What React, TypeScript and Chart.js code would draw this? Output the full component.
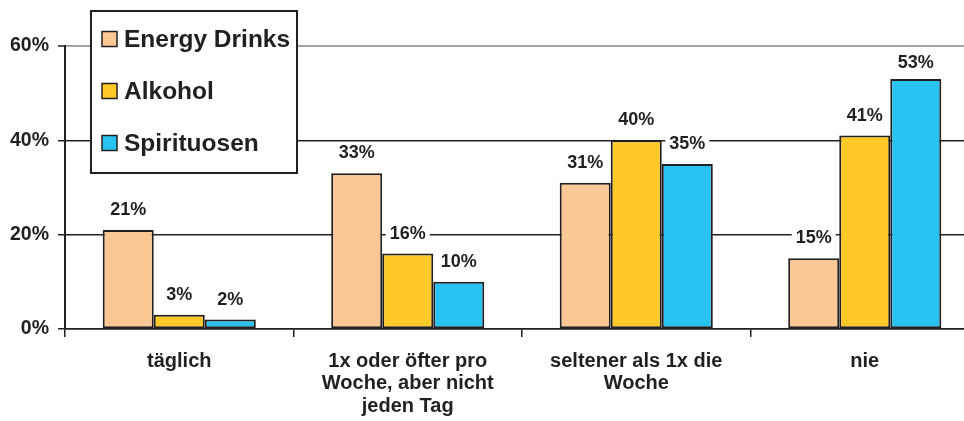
import React, { useEffect, useRef } from 'react';
import { Chart, registerables } from 'chart.js';

Chart.register(...registerables);

const categories: string[][] = [
  ['täglich'],
  ['1x oder öfter pro', 'Woche, aber nicht', 'jeden Tag'],
  ['seltener als 1x die', 'Woche'],
  ['nie'],
];
const seriesNames = ['Energy Drinks', 'Alkohol', 'Spirituosen'];
const energyDrinks = [21, 33, 31, 15];
const alkohol = [3, 16, 40, 41];
const spirituosen = [2, 10, 35, 53];
const yTickValues = [0, 20, 40, 60];
const seriesColors = ['#FBC794', '#FFCA28', '#29C3F1'];

const FONT = '"Liberation Sans", Arial, Helvetica, sans-serif';
const INK = '#231F20';

const valueLabels = {
  id: 'valueLabels',
  afterDatasetsDraw(chart: any) {
    const ctx = chart.ctx;
    ctx.save();
    ctx.font = `bold 18px ${FONT}`;
    ctx.textAlign = 'center';
    ctx.textBaseline = 'middle';
    const minY = chart.chartArea.top + 16;
    chart.data.datasets.forEach((ds: any, i: number) => {
      const meta = chart.getDatasetMeta(i);
      meta.data.forEach((bar: any, j: number) => {
        const t = ds.data[j] + '%';
        const w = ctx.measureText(t).width;
        const cy = Math.max(bar.y - 21, minY);
        ctx.fillStyle = '#ffffff';
        ctx.fillRect(bar.x - w / 2 - 4, cy - 9, w + 8, 18);
        ctx.fillStyle = INK;
        ctx.fillText(t, bar.x, cy + 1);
      });
    });
    ctx.restore();
  },
};

const boxLegend = {
  id: 'boxLegend',
  afterDraw(chart: any) {
    const ctx = chart.ctx;
    ctx.save();
    const bx = 91, by = 11, bw = 206, bh = 162;
    ctx.fillStyle = '#ffffff';
    ctx.fillRect(bx, by, bw, bh);
    ctx.strokeStyle = INK;
    ctx.lineWidth = 2;
    ctx.strokeRect(bx, by, bw, bh);
    ctx.font = `bold 24.5px ${FONT}`;
    ctx.textAlign = 'left';
    ctx.textBaseline = 'middle';
    chart.data.datasets.forEach((ds: any, i: number) => {
      const cy = 39 + i * 52;
      ctx.fillStyle = ds.backgroundColor;
      ctx.fillRect(102, cy - 7.5, 15, 15);
      ctx.lineWidth = 1.5;
      ctx.strokeStyle = INK;
      ctx.strokeRect(102, cy - 7.5, 15, 15);
      ctx.fillStyle = INK;
      ctx.fillText(ds.label, 124, cy + 1);
    });
    ctx.restore();
  },
};

export default function App() {
  const ref = useRef<HTMLCanvasElement | null>(null);

  useEffect(() => {
    if (!ref.current) return;
    const seriesData = [energyDrinks, alkohol, spirituosen];
    const chart = new Chart(ref.current, {
      type: 'bar',
      data: {
        labels: categories as any,
        datasets: seriesNames.map((name, i) => ({
          label: name,
          data: seriesData[i],
          backgroundColor: seriesColors[i],
          borderColor: INK,
          borderWidth: 2,
          borderSkipped: false,
          categoryPercentage: 0.67,
          barPercentage: 1.0,
        })),
      },
      options: {
        responsive: false,
        animation: false,
        devicePixelRatio: 1,
        layout: { padding: { top: 46, right: 0, bottom: 0, left: 0 } },
        plugins: {
          legend: { display: false },
          tooltip: { enabled: false },
        },
        scales: {
          x: {
            grid: {
              offset: true,
              drawOnChartArea: false,
              drawTicks: true,
              tickLength: 8,
              color: INK,
              lineWidth: 1.5,
            },
            border: { display: true, color: INK, width: 1.5 },
            ticks: {
              font: { family: FONT, size: 20, weight: 'bold', lineHeight: 1.12 },
              color: INK,
              padding: 13,
              maxRotation: 0,
              autoSkip: false,
            },
            afterFit: (scale: any) => {
              scale.height = 92;
            },
          },
          y: {
            min: 0,
            max: 60,
            grid: {
              color: (c: any) => (c.tick && c.tick.value === 60 ? '#A3A3A3' : INK),
              lineWidth: (c: any) => (c.tick && c.tick.value === 60 ? 2 : 1.5),
              tickColor: INK,
              tickLength: 7,
              tickWidth: 1.5,
            },
            border: { display: true, color: INK, width: 2 },
            ticks: {
              font: { family: FONT, size: 19.5, weight: 'bold' },
              color: INK,
              padding: 9,
              callback: (v: any) => v + '%',
            },
            afterBuildTicks: (scale: any) => {
              scale.ticks = yTickValues.map((v) => ({ value: v }));
            },
            afterFit: (scale: any) => {
              scale.width = 65;
            },
          },
        },
      },
      plugins: [valueLabels, boxLegend],
    });
    return () => chart.destroy();
  }, []);

  return (
    <div
      style={{
        position: 'fixed',
        left: 0,
        top: 0,
        width: 964,
        height: 421,
        overflow: 'hidden',
        background: '#ffffff',
      }}
    >
      <canvas ref={ref} width={979} height={421} style={{ display: 'block' }} />
    </div>
  );
}
